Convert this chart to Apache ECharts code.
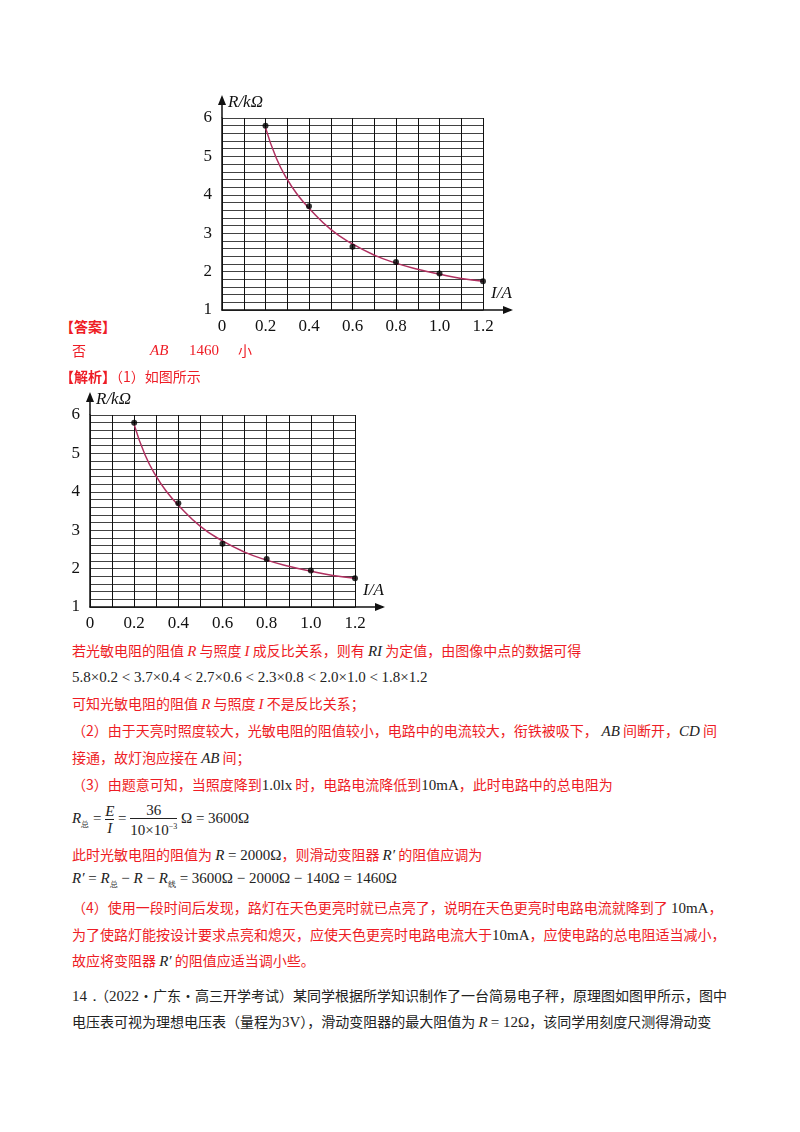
<!DOCTYPE html>
<html><head><meta charset="utf-8">
<script src="https://cdn.jsdelivr.net/npm/echarts@6/dist/echarts.min.js"></script>
<style>
body{margin:0;width:800px;height:1132px;background:#fff;position:relative;font-family:"Noto Sans CJK SC";}
.t{position:absolute;font-size:14px;white-space:nowrap;line-height:16px;}
.r{color:#ee1c25;}
.k{color:#222;}
.m{font-family:"Liberation Serif";font-size:15px;}
.i{font-family:"Liberation Serif";font-style:italic;font-size:15px;}
.c{position:absolute;}
.fr{display:inline-block;vertical-align:middle;text-align:center;line-height:16px;}
.fr .d{border-top:1px solid #222;display:block;}
</style></head><body>
<div id="c1" class="c" style="left:180px;top:85px;width:350px;height:250px"></div>
<div id="c2" class="c" style="left:48px;top:382px;width:350px;height:250px"></div>

<div class="t r" style="left:60px;top:318px;font-weight:bold">【答案】</div>
<div class="t r" style="left:72px;top:342px">否</div>
<div class="t r i" style="left:150px;top:342px">AB</div>
<div class="t r m" style="left:189px;top:342px">1460</div>
<div class="t r" style="left:238px;top:342px">小</div>
<div class="t r" style="left:60px;top:368px"><b>【解析】</b>（1）如图所示</div>

<div class="t r" style="left:72px;top:642px">若光敏电阻的阻值 <span class="i">R</span> 与照度 <span class="i">I</span> 成反比关系，则有 <span class="i k">RI</span> 为定值，由图像中点的数据可得</div>
<div class="t k m" style="left:72px;top:669px">5.8×0.2 &lt; 3.7×0.4 &lt; 2.7×0.6 &lt; 2.3×0.8 &lt; 2.0×1.0 &lt; 1.8×1.2</div>
<div class="t r" style="left:72px;top:695px">可知光敏电阻的阻值 <span class="i">R</span> 与照度 <span class="i">I</span> 不是反比关系；</div>
<div class="t r" style="left:72px;top:722px">（2）由于天亮时照度较大，光敏电阻的阻值较小，电路中的电流较大，衔铁被吸下，<span class="i k">&nbsp;AB</span> 间断开，<span class="i k">CD</span> 间</div>
<div class="t r" style="left:72px;top:749px">接通，故灯泡应接在 <span class="i k">AB</span> 间；</div>
<div class="t r" style="left:72px;top:776px">（3）由题意可知，当照度降到<span class="m k">1.0lx</span> 时，电路电流降低到<span class="m k">10mA</span>，此时电路中的总电阻为</div>
<div class="t k m" style="left:72px;top:800px;line-height:36px"><span class="i">R</span><sub style="font-size:8px">总</sub> = <span class="fr"><span class="i">E</span><span class="d"><span class="i">I</span></span></span> = <span class="fr">36<span class="d">10×10<sup style="font-size:8px">−3</sup></span></span> Ω = 3600Ω</div>
<div class="t r" style="left:72px;top:846px">此时光敏电阻的阻值为 <span class="m k"><i>R</i> = 2000Ω</span>，则滑动变阻器 <span class="i k">R′</span> 的阻值应调为</div>
<div class="t k m" style="left:72px;top:870px"><i>R′</i> = <i>R</i><sub style="font-size:8px">总</sub> − <i>R</i> − <i>R</i><sub style="font-size:8px">线</sub> = 3600Ω − 2000Ω − 140Ω = 1460Ω</div>
<div class="t r" style="left:72px;top:899px">（4）使用一段时间后发现，路灯在天色更亮时就已点亮了，说明在天色更亮时电路电流就降到了 <span class="m k">10mA</span>，</div>
<div class="t r" style="left:72px;top:926px">为了使路灯能按设计要求点亮和熄灭，应使天色更亮时电路电流大于<span class="m k">10mA</span>，应使电路的总电阻适当减小，</div>
<div class="t r" style="left:72px;top:952px">故应将变阻器 <span class="i k">R′</span> 的阻值应适当调小些。</div>
<div class="t k" style="left:72px;top:987px"><span class="m">14．</span>（<span class="m">2022</span>·广东·高三开学考试）某同学根据所学知识制作了一台简易电子秤，原理图如图甲所示，图中</div>
<div class="t k" style="left:72px;top:1013px">电压表可视为理想电压表（量程为<span class="m">3V</span>），滑动变阻器的最大阻值为 <span class="i">R</span> <span class="m">= 12Ω</span>，该同学用刻度尺测得滑动变</div>

<script>
var currents=[0.2,0.4,0.6,0.8,1.0,1.2];
var resist=[5.8,3.7,2.65,2.25,1.95,1.75];
var curveX=[0.2,0.25,0.3,0.35,0.4,0.5,0.6,0.7,0.8,0.9,1.0,1.1,1.2];
var curveY=[5.75,4.95,4.4,3.98,3.65,3.1,2.72,2.43,2.22,2.06,1.93,1.82,1.75];
var xTicks=['0','0.2','0.4','0.6','0.8','1.0','1.2'];
var yTicks=['1','2','3','4','5','6'];

function make(id,g){
  var ch=echarts.init(document.getElementById(id));
  var pts=currents.map(function(x,i){return [x,resist[i]];});
  var cur=curveX.map(function(x,i){return [x,curveY[i]];});
  var font={fontFamily:'Liberation Serif',fontSize:17,color:'#111'};
  ch.setOption({
    animation:false,
    grid:g,
    xAxis:{type:'value',min:0,max:1.2,interval:0.1,
      axisLine:{lineStyle:{color:'#111',width:1.5}},axisTick:{show:false},
      splitLine:{lineStyle:{color:'#111',width:1}},
      axisLabel:Object.assign({margin:8,formatter:function(v){var r=Math.round(v*10);return r%2===0?xTicks[r/2]:'';}},font)},
    yAxis:{type:'value',min:1,max:6,interval:0.2,
      axisLine:{lineStyle:{color:'#111',width:1.5}},axisTick:{show:false},
      splitLine:{lineStyle:{color:'#111',width:0.8}},
      axisLabel:Object.assign({margin:10,formatter:function(v){var r=Math.round(v*5);return r%5===0?yTicks[r/5-1]:'';}},font)},
    series:[
      {type:'line',data:cur,smooth:true,symbol:'none',lineStyle:{color:'#b03060',width:1.5},z:3},
      {type:'scatter',data:pts,symbolSize:6,itemStyle:{color:'#000'},z:4}
    ]
  });
  var o=ch.convertToPixel({gridIndex:0},[0,1]);
  var xe=ch.convertToPixel({gridIndex:0},[1.2,6]);
  ch.setOption({graphic:[
    {type:'line',shape:{x1:xe[0],y1:o[1],x2:xe[0]+28,y2:o[1]},style:{stroke:'#111',lineWidth:1.5}},
    {type:'polygon',shape:{points:[[xe[0]+30,o[1]],[xe[0]+20,o[1]-4],[xe[0]+20,o[1]+4]]},style:{fill:'#111'}},
    {type:'line',shape:{x1:o[0],y1:xe[1],x2:o[0],y2:xe[1]-20},style:{stroke:'#111',lineWidth:1.5}},
    {type:'polygon',shape:{points:[[o[0],xe[1]-23],[o[0]-4,xe[1]-13],[o[0]+4,xe[1]-13]]},style:{fill:'#111'}},
    {type:'text',x:o[0]+6,y:xe[1]-24,style:{text:'R/kΩ',font:'italic 17px Liberation Serif',fill:'#111'}},
    {type:'text',x:xe[0]+8,y:o[1]-25,style:{text:'I/A',font:'italic 17px Liberation Serif',fill:'#111'}}
  ]});
}
make('c1',{left:42,top:33,width:261,height:192});
make('c2',{left:42,top:33,width:265,height:193});
</script>
</body></html>
